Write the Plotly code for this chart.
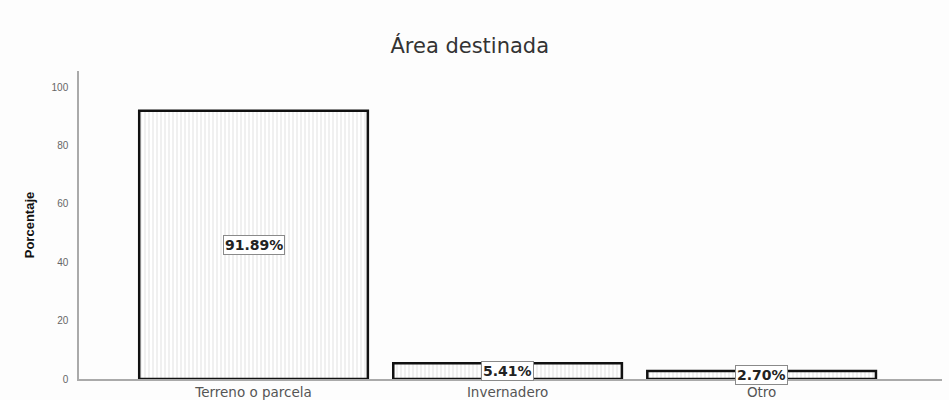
import plotly.graph_objects as go

categorias = ["Terreno o parcela", "Invernadero", "Otro"]
porcentajes = [91.89, 5.41, 2.70]
etiquetas = ["91.89%", "5.41%", "2.70%"]
y_ticks = [0, 20, 40, 60, 80, 100]

fig = go.Figure()
fig.add_trace(go.Bar(
    x=list(range(len(categorias))),
    y=porcentajes,
    width=0.9,
    marker=dict(
        color="white",
        line=dict(color="#111111", width=2.5),
        pattern=dict(shape="|", fgcolor="#c4c4c4", bgcolor="white", size=4, solidity=0.25),
    ),
    hoverinfo="skip",
))

# value boxes centred at half the bar height
for i, (v, t) in enumerate(zip(porcentajes, etiquetas)):
    fig.add_annotation(
        x=i, y=v / 2, xref="x", yref="y", text="<b>" + t + "</b>", showarrow=False,
        font=dict(family="DejaVu Sans", size=14, color="#222222"),
        bgcolor="white", bordercolor="#8a8a8a", borderwidth=1, borderpad=1,
    )

fig.update_layout(
    width=949, height=400,
    margin=dict(l=79, r=7, t=71, b=21),
    paper_bgcolor="#fdfdfd", plot_bgcolor="#fdfdfd",
    showlegend=False,
    title=dict(
        text="Área destinada", x=0.495, xanchor="center", y=0.885, yanchor="middle",
        font=dict(family="DejaVu Sans", size=21, color="#333333"),
    ),
    xaxis=dict(
        range=[-0.687, 2.71], automargin=False,
        tickmode="array", tickvals=list(range(len(categorias))), ticktext=categorias,
        showgrid=False, zeroline=False, showline=True, linecolor="#aaaaaa", linewidth=1.5,
        ticks="", ticklabelstandoff=0,
        tickfont=dict(family="DejaVu Sans", size=13.5, color="#555555"),
    ),
    yaxis=dict(
        range=[0, 105.5], automargin=False,
        tickmode="array", tickvals=y_ticks,
        showgrid=False, zeroline=False, showline=True, linecolor="#aaaaaa", linewidth=1.5,
        ticks="", tickfont=dict(family="Liberation Sans, Arial", size=10, color="#666666"),
        ticklabelstandoff=7,
        title=dict(text="<b>Porcentaje</b>", standoff=14,
                   font=dict(family="Liberation Sans, Arial", size=13, color="#111111")),
    ),
)

fig.write_html("out.html")
